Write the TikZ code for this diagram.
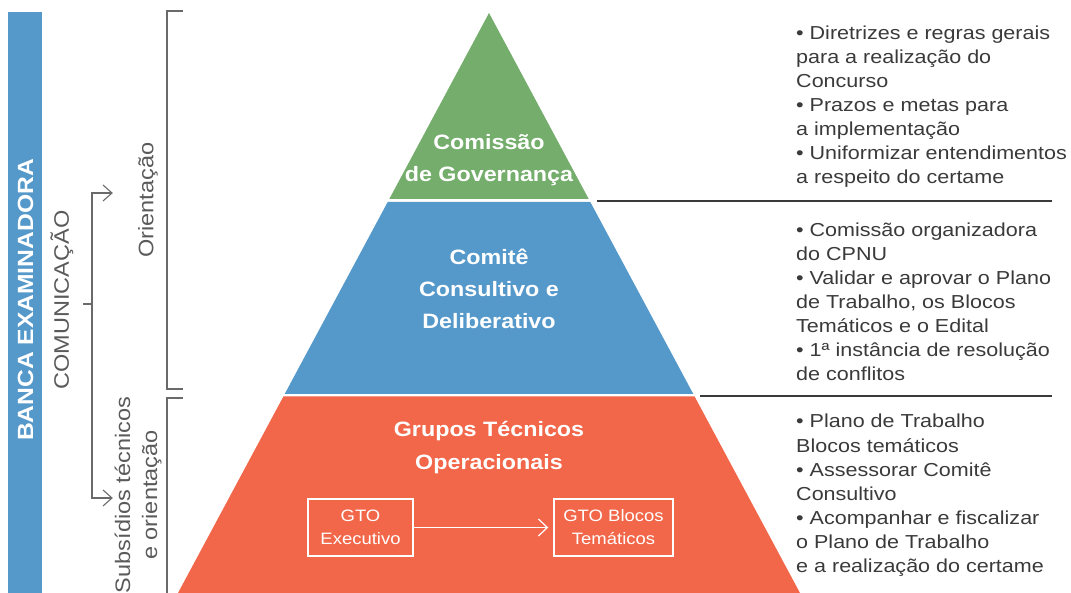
\documentclass[tikz,border=0pt]{standalone}
\usepackage{fontspec}
\setmainfont[FakeStretch=1.12]{Liberation Sans}
\newfontfamily\descfont[FakeStretch=1.145]{Liberation Sans}
\definecolor{pgreen}{HTML}{74AD6C}
\definecolor{pblue}{HTML}{5598CA}
\definecolor{pred}{HTML}{F26649}
\definecolor{txtdark}{HTML}{3A3A3A}
\definecolor{txtgray}{HTML}{5A5A5A}
\definecolor{brk}{HTML}{6A6A6A}
\tikzset{
  desc/.style={anchor=base west, inner sep=0pt, text=txtdark, font=\descfont\fontsize{18.8}{24}\selectfont},
  ptitle/.style={anchor=base, inner sep=0pt, text=white, font=\bfseries\fontsize{20.8}{32}\selectfont},
  sidetxt/.style={rotate=90, inner sep=0pt, text=txtgray, font=\fontsize{21}{27}\selectfont, align=center},
  gtobox/.style={draw=white, line width=1.2pt, text=white, inner sep=0pt, minimum height=57pt, align=center, font=\fontsize{16.5}{23}\selectfont},
  brkline/.style={draw=brk, line width=1.1pt},
  sepline/.style={draw=txtdark, line width=1.1pt},
  gtoline/.style={draw=white, line width=1.2pt}
}
\begin{document}
\begin{tikzpicture}[x=1pt,y=-1pt]
\useasboundingbox (0,0) rectangle (1071,593);
% left bar
\fill[pblue] (8,12) rectangle (42,593);
\node[rotate=90, inner sep=0pt, text=white, font=\bfseries\fontsize{22}{26}\selectfont] (banca) at (25.5,300) {BANCA EXAMINADORA};
\node[sidetxt] (comm) at (62,300) {COMUNICAÇÃO};
\node[sidetxt] (orient) at (148,200) {Orientação};
\node[sidetxt] (subs) at (138,495) {Subsídios técnicos\\e orientação};
% communication bracket
\coordinate (cm) at (92,304);
\coordinate (ctick) at (83,304);
\coordinate (ctop) at (92,193);
\coordinate (ctopend) at (112,193);
\coordinate (cbot) at (92,498);
\coordinate (cbotend) at (112,498);
\draw[brkline] (ctick) -- (cm);
\draw[brkline] (cm) -- (ctop) -- (ctopend);
\draw[brkline] ([shift={(-9,-8)}]ctopend) -- (ctopend) -- ([shift={(-9,8)}]ctopend);
\draw[brkline] (cm) -- (cbot) -- (cbotend);
\draw[brkline] ([shift={(-9,-8)}]cbotend) -- (cbotend) -- ([shift={(-9,8)}]cbotend);
% right brackets
\draw[brkline] (183,11) -- (167,11) -- (167,389) -- (183,389);
\draw[brkline] (183,398) -- (167,398) -- (167,593);
% pyramid
\fill[pgreen] (489,13) -- (588.7,199) -- (389.3,199) -- cycle;
\fill[pblue] (387.7,202) -- (590.3,202) -- (693.3,394) -- (284.7,394) -- cycle;
\fill[pred] (283.4,396.5) -- (694.6,396.5) -- (800,593) -- (178,593) -- cycle;
% separators
\draw[sepline] (597,201) -- (1052,201);
\draw[sepline] (700,396) -- (1052,396);
% pyramid titles
\node[ptitle] (t1) at (489,150) {Comissão};
\node[ptitle] (t2) at (489,182) {de Governança};
\node[ptitle] (t3) at (489,265) {Comitê};
\node[ptitle] (t4) at (489,297) {Consultivo e};
\node[ptitle] (t5) at (489,329) {Deliberativo};
\node[ptitle] (t6) at (489,436) {Grupos Técnicos};
\node[ptitle] (t7) at (489,469) {Operacionais};
% GTO boxes
\node[gtobox, minimum width=105pt] (gtoA) at (360.5,527.5) {GTO\\Executivo};
\node[gtobox, minimum width=119pt] (gtoB) at (613.5,527.5) {GTO Blocos\\Temáticos};
\coordinate (gtip) at ([xshift=-6pt]gtoB.west);
\draw[gtoline] (gtoA.east) -- (gtip);
\draw[gtoline] ([shift={(-9,-8.5)}]gtip) -- (gtip) -- ([shift={(-9,8.5)}]gtip);
% descriptions
\node[desc] (d1) at (796,40) {• Diretrizes e regras gerais};
\node[desc] (d2) at (796,64) {para a realização do};
\node[desc] (d3) at (796,88) {Concurso};
\node[desc] (d4) at (796,112) {• Prazos e metas para};
\node[desc] (d5) at (796,136) {a implementação};
\node[desc] (d6) at (796,160) {• Uniformizar entendimentos};
\node[desc] (d7) at (796,184) {a respeito do certame};
\node[desc] (d8) at (796,237) {• Comissão organizadora};
\node[desc] (d9) at (796,261) {do CPNU};
\node[desc] (d10) at (796,285) {• Validar e aprovar o Plano};
\node[desc] (d11) at (796,309) {de Trabalho, os Blocos};
\node[desc] (d12) at (796,333) {Temáticos e o Edital};
\node[desc] (d13) at (796,357) {• 1ª instância de resolução};
\node[desc] (d14) at (796,381) {de conflitos};
\node[desc] (d15) at (796,428) {• Plano de Trabalho};
\node[desc] (d16) at (796,452) {Blocos temáticos};
\node[desc] (d17) at (796,476) {• Assessorar Comitê};
\node[desc] (d18) at (796,500) {Consultivo};
\node[desc] (d19) at (796,524) {• Acompanhar e fiscalizar};
\node[desc] (d20) at (796,548) {o Plano de Trabalho};
\node[desc] (d21) at (796,572) {e a realização do certame};
\end{tikzpicture}
\end{document}
